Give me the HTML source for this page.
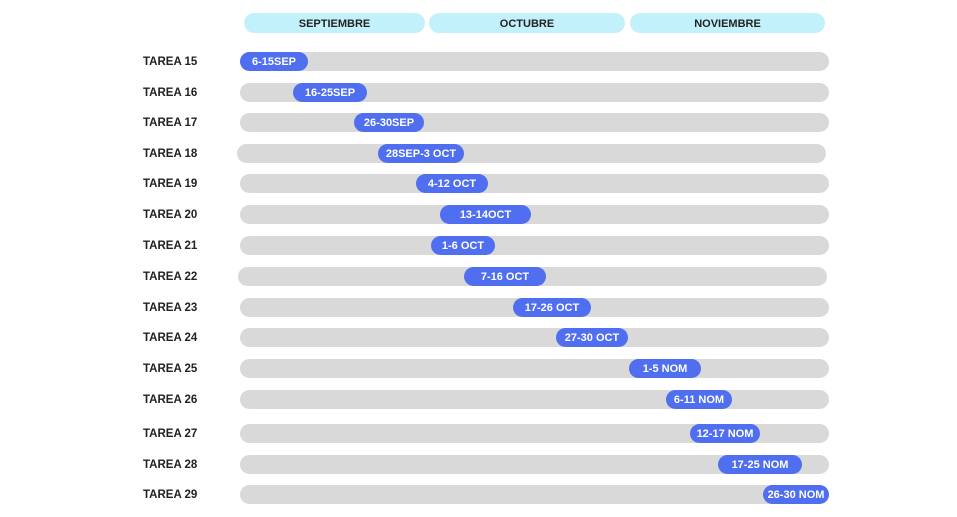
<!DOCTYPE html><html><head><style>
body{margin:0;width:957px;height:517px;background:#fff;position:relative;overflow:hidden;font-family:"Liberation Sans",sans-serif;font-weight:bold}
.h,.l,.b{display:flex;align-items:center;padding-top:2px;box-sizing:border-box}
.h{position:absolute;top:13px;height:20px;background:#c3f1fb;border-radius:10px;font-size:11px;color:#222;justify-content:center}
.l{position:absolute;left:143px;height:19px;font-size:11.5px;color:#222}
.g{position:absolute;height:19px;background:#d9d9d9;border-radius:10px}
.b{position:absolute;height:19px;background:#4f6ef0;border-radius:10px;color:#fff;font-size:11px;justify-content:center;white-space:nowrap}
</style></head><body>
<div class="h" style="left:244px;width:181px">SEPTIEMBRE</div>
<div class="h" style="left:429px;width:196px">OCTUBRE</div>
<div class="h" style="left:630px;width:195px">NOVIEMBRE</div>
<script>
var r=[[15,61,240,240,308,"6-15SEP"],[16,92,240,293,367,"16-25SEP"],[17,122,240,354,424,"26-30SEP"],[18,153,237,378,464,"28SEP-3 OCT"],[19,183,240,416,488,"4-12 OCT"],[20,214,240,440,531,"13-14OCT"],[21,245,240,431,495,"1-6 OCT"],[22,276,238,464,546,"7-16 OCT"],[23,307,240,513,591,"17-26 OCT"],[24,337,240,556,628,"27-30 OCT"],[25,368,240,629,701,"1-5 NOM"],[26,399,240,666,732,"6-11 NOM"],[27,433,240,690,760,"12-17 NOM"],[28,464,240,718,802,"17-25 NOM"],[29,494,240,763,829,"26-30 NOM"]];
var h="";r.forEach(function(a){var t=a[1]-9.5;
h+='<div class="l" style="top:'+t+'px">TAREA '+a[0]+'</div>';
h+='<div class="g" style="top:'+t+'px;left:'+a[2]+'px;width:589px"></div>';
h+='<div class="b" style="top:'+t+'px;left:'+a[3]+'px;width:'+(a[4]-a[3])+'px">'+a[5]+'</div>';});
document.body.insertAdjacentHTML("beforeend",h);
</script>
</body></html>
